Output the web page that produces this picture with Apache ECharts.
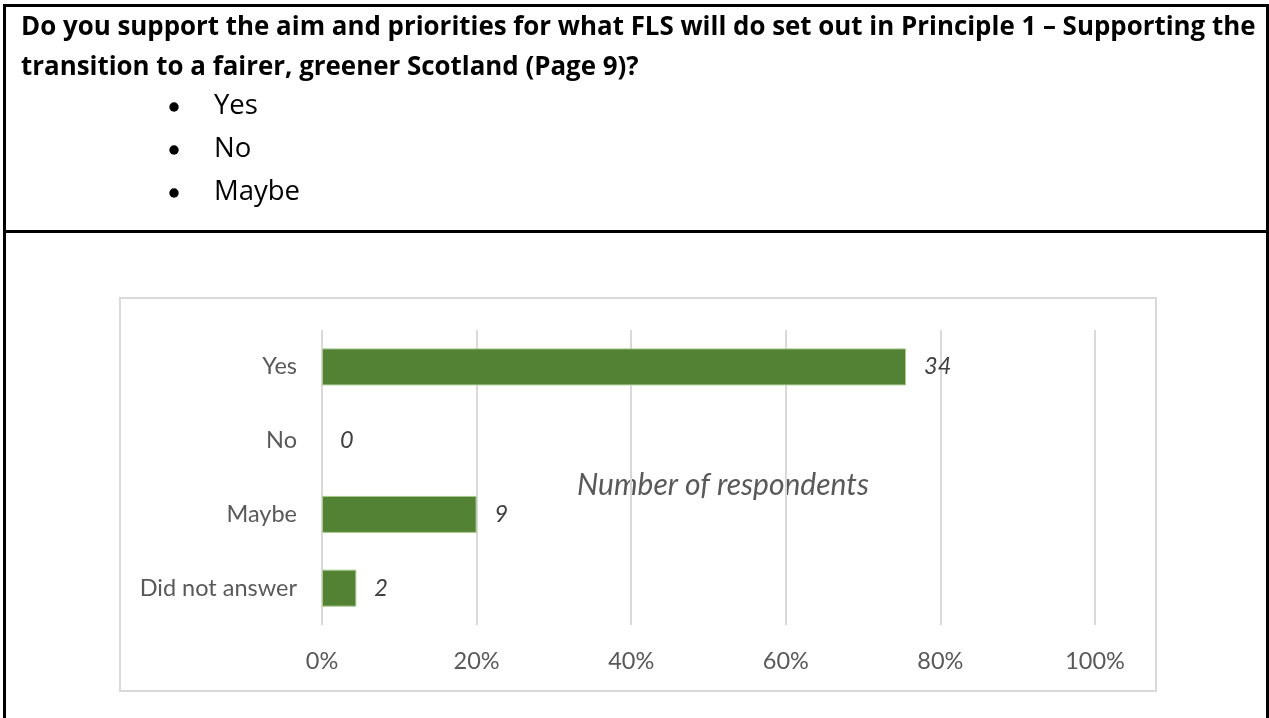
<!DOCTYPE html>
<html>
<head>
<meta charset="utf-8">
<script src="https://cdn.jsdelivr.net/npm/echarts@6/dist/echarts.min.js"></script>
<style>
html,body{margin:0;padding:0;background:#fff;}
#chart{width:1269px;height:718px;}
</style>
</head>
<body>
<div id="chart"></div>
<script>
// ---- data ----
const questionLines = [
  "Do you support the aim and priorities for what FLS will do set out in Principle 1 \u2013 Supporting the",
  "transition to a fairer, greener Scotland (Page 9)?"
];
const options = ["Yes", "No", "Maybe"];
const categories = ["Yes", "No", "Maybe", "Did not answer"];
const counts = [34, 0, 9, 2];
const xTicks = [0, 0.2, 0.4, 0.6, 0.8, 1.0];
const axisTitle = "Number of respondents";

const total = counts.reduce((a, b) => a + b, 0);
const shares = counts.map(c => c / total);

const chart = echarts.init(document.getElementById('chart'), null, {renderer: 'canvas'});

const graphics = [
  // outer table borders
  {type: 'line', shape: {x1: 4.5, y1: 4, x2: 4.5, y2: 718}, style: {stroke: '#000', lineWidth: 3}},
  {type: 'line', shape: {x1: 3, y1: 5.5, x2: 1269, y2: 5.5}, style: {stroke: '#000', lineWidth: 3}},
  {type: 'line', shape: {x1: 1267.5, y1: 4, x2: 1267.5, y2: 718}, style: {stroke: '#000', lineWidth: 3}},
  {type: 'line', shape: {x1: 3, y1: 231.5, x2: 1269, y2: 231.5}, style: {stroke: '#000', lineWidth: 3}},
  // chart frame
  {type: 'rect', shape: {x: 120, y: 298, width: 1036, height: 393}, style: {fill: 'none', stroke: '#d9d9d9', lineWidth: 2}, z: 0},
  // axis title
  {type: 'text', x: 723, y: 485, style: {text: axisTitle, font: 'italic 30px Lato', fill: '#595959', align: 'center', verticalAlign: 'middle'}}
];
questionLines.forEach((t, i) => {
  graphics.push({type: 'text', x: 21, y: 28 + i * 40,
    style: {text: t, font: 'bold 25.9px "Open Sans"', fill: '#000', align: 'left', verticalAlign: 'middle'}});
});
options.forEach((t, i) => {
  const y = 106 + i * 43;
  graphics.push({type: 'circle', shape: {cx: 174, cy: y + 1, r: 4.7}, style: {fill: '#000'}});
  graphics.push({type: 'text', x: 214, y: y,
    style: {text: t, font: '27.5px "Open Sans"', fill: '#000', align: 'left', verticalAlign: 'middle'}});
});

chart.setOption({
  animation: false,
  grid: {left: 322, right: 174, top: 330, bottom: 93, containLabel: false},
  xAxis: {
    type: 'value', min: 0, max: 1, interval: 0.2,
    axisLine: {show: false}, axisTick: {show: false},
    splitLine: {show: true, lineStyle: {color: '#d9d9d9', width: 2}},
    axisLabel: {
      formatter: v => Math.round(v * 100) + '%',
      color: '#595959', fontFamily: 'Lato', fontSize: 23.5, margin: 24
    }
  },
  yAxis: {
    type: 'category', data: categories, inverse: true,
    axisLine: {show: false}, axisTick: {show: false},
    axisLabel: {color: '#595959', fontFamily: 'Lato', fontSize: 23.5, margin: 25}
  },
  series: [{
    type: 'bar',
    data: shares.map(v => ({value: v, itemStyle: v === 0 ? {borderWidth: 0} : {}})),
    barWidth: 37,
    itemStyle: {color: '#548235', borderColor: '#a9cc8f', borderWidth: 1},
    label: {
      show: true, position: 'right', distance: 18,
      formatter: p => counts[p.dataIndex],
      fontFamily: 'Lato', fontStyle: 'italic', fontSize: 23.5, color: '#404040'
    }
  }],
  graphic: graphics
});
</script>
</body>
</html>
